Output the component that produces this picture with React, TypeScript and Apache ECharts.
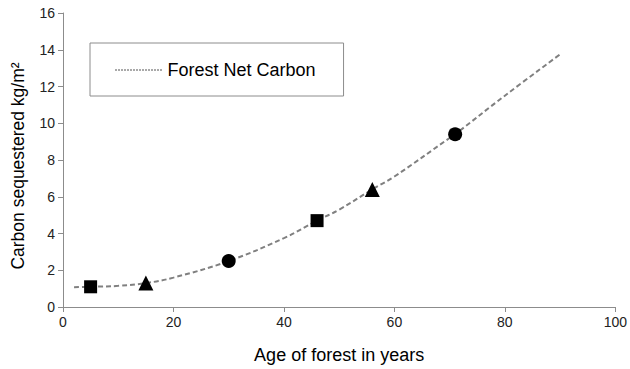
import React, { useEffect, useRef } from "react";
import * as echarts from "echarts";

const curveX = [2, 5, 10, 15, 20, 30, 40, 46, 50, 56, 60, 70, 71, 80, 90];
const curveY = [1.08, 1.1, 1.15, 1.3, 1.6, 2.5, 3.75, 4.7, 5.3, 6.4, 7.1, 9.2, 9.4, 11.5, 13.75];
const squareX = [5, 46];
const squareY = [1.1, 4.7];
const triangleX = [15, 56];
const triangleY = [1.3, 6.4];
const circleX = [30, 71];
const circleY = [2.5, 9.4];

const FONT = "Liberation Sans, Arial, sans-serif";

function dashIcon() {
  let d = "path://";
  for (let i = 0; i < 48; i += 3) d += `M${i},0h2v1h-2z`;
  return d;
}

export default function App() {
  const ref = useRef<HTMLDivElement>(null);
  useEffect(() => {
    if (!ref.current) return;
    const chart = echarts.init(ref.current, null, { renderer: "svg" });
    const zip = (xs: number[], ys: number[]) => xs.map((x, i) => [x, ys[i]]);
    chart.setOption({
      animation: false,
      backgroundColor: "#fff",
      textStyle: { fontFamily: FONT },
      grid: { left: 63, right: 12, top: 13, bottom: 59 },
      legend: {
        data: [{ name: "Forest Net Carbon", icon: dashIcon(), itemStyle: { color: "#555" } }],
        left: 90,
        top: 43,
        orient: "horizontal",
        borderColor: "#8c8c8c",
        borderWidth: 1,
        padding: [18, 28, 17, 25],
        itemWidth: 48,
        itemHeight: 1,
        itemGap: 9,
        textStyle: { fontSize: 18, color: "#000", fontFamily: FONT },
      },
      xAxis: {
        type: "value",
        min: 0,
        max: 100,
        interval: 20,
        name: "Age of forest in years",
        nameLocation: "middle",
        nameGap: 39,
        nameTextStyle: { fontSize: 18, color: "#000", fontFamily: FONT },
        axisLine: { lineStyle: { color: "#8c8c8c", width: 1 } },
        axisTick: { show: true, length: 5, lineStyle: { color: "#8c8c8c" } },
        axisLabel: { fontSize: 14, color: "#222", margin: 8, fontFamily: FONT },
        splitLine: { show: false },
      },
      yAxis: {
        type: "value",
        min: 0,
        max: 16,
        interval: 2,
        name: "Carbon sequestered kg/m²",
        nameLocation: "middle",
        nameGap: 36,
        nameTextStyle: { fontSize: 17.5, color: "#000", fontFamily: FONT, padding: [0, 0, 0, -12] },
        axisLine: { show: true, lineStyle: { color: "#8c8c8c", width: 1 } },
        axisTick: { show: true, length: 5, lineStyle: { color: "#8c8c8c" } },
        axisLabel: { fontSize: 14, color: "#222", margin: 8, fontFamily: FONT },
        splitLine: { show: false },
      },
      series: [
        {
          name: "Forest Net Carbon",
          type: "line",
          data: zip(curveX, curveY),
          smooth: 0.4,
          showSymbol: false,
          symbol: "none",
          lineStyle: { color: "#808080", width: 2, type: [5, 3] },
          itemStyle: { color: "#808080" },
          z: 1,
        },
        {
          name: "squares",
          type: "scatter",
          data: zip(squareX, squareY),
          symbol: "rect",
          symbolSize: 13,
          itemStyle: { color: "#000", opacity: 1 },
          z: 3,
        },
        {
          name: "triangles",
          type: "scatter",
          data: zip(triangleX, triangleY),
          symbol: "triangle",
          symbolSize: 15,
          itemStyle: { color: "#000", opacity: 1 },
          z: 3,
        },
        {
          name: "circles",
          type: "scatter",
          data: zip(circleX, circleY),
          symbol: "circle",
          symbolSize: 14,
          itemStyle: { color: "#000", opacity: 1 },
          z: 3,
        },
      ],
    });
    return () => chart.dispose();
  }, []);
  return <div ref={ref} style={{ width: 630, height: 369, position: "absolute", left: 0, top: 0 }} />;
}
